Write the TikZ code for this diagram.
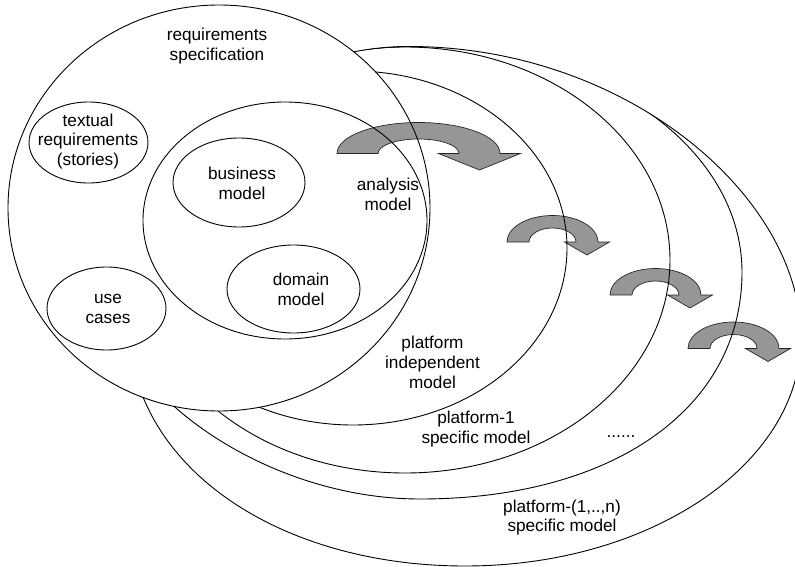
\documentclass[tikz,border=0pt]{standalone}
\usepackage{fontspec}
\setmainfont{Liberation Sans}
\usetikzlibrary{shapes.geometric}
\definecolor{arrowgray}{RGB}{150,150,150}
\begin{document}
\begin{tikzpicture}[x=1pt, y=-1pt,
  outline/.style={draw=black, line width=0.9pt},
  smallell/.style={ellipse, draw=black, line width=0.9pt, inner sep=0pt},
  label/.style={align=center, inner sep=0pt, font=\fontsize{17.2}{19.8}\selectfont},
  turnarrow/.style={fill=arrowgray, draw=black!85, line width=0.7pt, line join=miter},
  bigturn/.pic={
    \path[turnarrow] (0,0) arc[start angle=180, end angle=360, x radius=81.5, y radius=31]
      -- (183.5,0) -- (142.5,16.5) -- (101.5,0) -- (122,0)
      arc[start angle=0, end angle=-180, x radius=40.5, y radius=14.5] -- cycle;
  },
  smallturn/.pic={
    \path[turnarrow] (0,0) arc[start angle=180, end angle=360, x radius=45.5, y radius=26.5]
      -- (102.5,0) -- (80,13) -- (57.5,0) -- (69,0)
      arc[start angle=0, end angle=-180, x radius=23.5, y radius=14] -- cycle;
  }]
\useasboundingbox (0,0) rectangle (795,567);

% transformation arrows
\pic at (337,153.5) {bigturn};
\pic at (507,242) {smallturn};
\pic at (610,295) {smallturn};
\pic at (688,348.5) {smallturn};

% nested model boundaries, visible only outside the requirements specification
\begin{scope}[even odd rule]
  \clip (-20,-20) rectangle (820,590)
    (219,208) ellipse [x radius=211, y radius=203];
  % platform-(1,..,n) specific model
  \draw[outline] (409,46.5) .. controls (625,46.5) and (801,195) .. (801,338)
    .. controls (801,463.9) and (650.6,566) .. (465,566)
    .. controls (279.6,566) and (128,467.6) .. (128,320)
    .. controls (128,169.6) and (254.5,46.5) .. cycle;
  \begin{scope}
    \clip (409,46.5) .. controls (625,46.5) and (801,195) .. (801,338)
      .. controls (801,463.9) and (650.6,566) .. (465,566)
      .. controls (279.6,566) and (128,467.6) .. (128,320)
      .. controls (128,169.6) and (254.5,46.5) .. cycle;
    % intermediate platform models
    \draw[outline] (422,46) .. controls (598.7,46) and (742,147.2) .. (742,272)
      .. controls (742,408.2) and (613.2,499) .. (420,499)
      .. controls (261,499) and (102,385.5) .. (102,272)
      .. controls (102,147.2) and (245.3,46) .. cycle;
    \begin{scope}
      \clip (422,46) .. controls (598.7,46) and (742,147.2) .. (742,272)
        .. controls (742,408.2) and (613.2,499) .. (420,499)
        .. controls (261,499) and (102,385.5) .. (102,272)
        .. controls (102,147.2) and (245.3,46) .. cycle;
      % platform-1 specific model
      \draw[outline] (405,260) ellipse [x radius=265, y radius=213];
      \begin{scope}
        \clip (405,260) ellipse [x radius=265, y radius=213];
        % platform independent model
        \draw[outline] (353,248) ellipse [x radius=214, y radius=177];
      \end{scope}
    \end{scope}
  \end{scope}
\end{scope}

% requirements specification and analysis model
\draw[outline] (219,208) ellipse [x radius=211, y radius=203];
\draw[outline] (285,220.5) ellipse [x radius=142, y radius=118.5];

% inner artefacts
\node[smallell, minimum width=119, minimum height=81] (textual) at (88.5,142.5) {};
\node[smallell, minimum width=132, minimum height=89] (business) at (239,182.5) {};
\node[smallell, minimum width=133, minimum height=88] (domain) at (293.5,289) {};
\node[smallell, minimum width=119, minimum height=83] (usecases) at (106.5,308.5) {};

% labels
\node[label] (reqlabel) at (217,46) {requirements\\specification};
\node[label] (textlabel) at (88,141.5) {textual\\requirements\\(stories)};
\node[label] (buslabel) at (242,183.5) {business\\model};
\node[label] (domlabel) at (301,289) {domain\\model};
\node[label] (uclabel) at (108,309) {use\\cases};
\node[label] (analabel) at (388,194) {analysis\\model};
\node[label] (pimlabel) at (432.5,362.5) {platform\\independent\\model};
\node[label] (psm1label) at (476,429) {platform-1\\specific model};
\node[label] (dotslabel) at (621,436.5) {......};
\node[label] (psmnlabel) at (562,517.5) {platform-(1,..,n)\\specific model};
\end{tikzpicture}
\end{document}
